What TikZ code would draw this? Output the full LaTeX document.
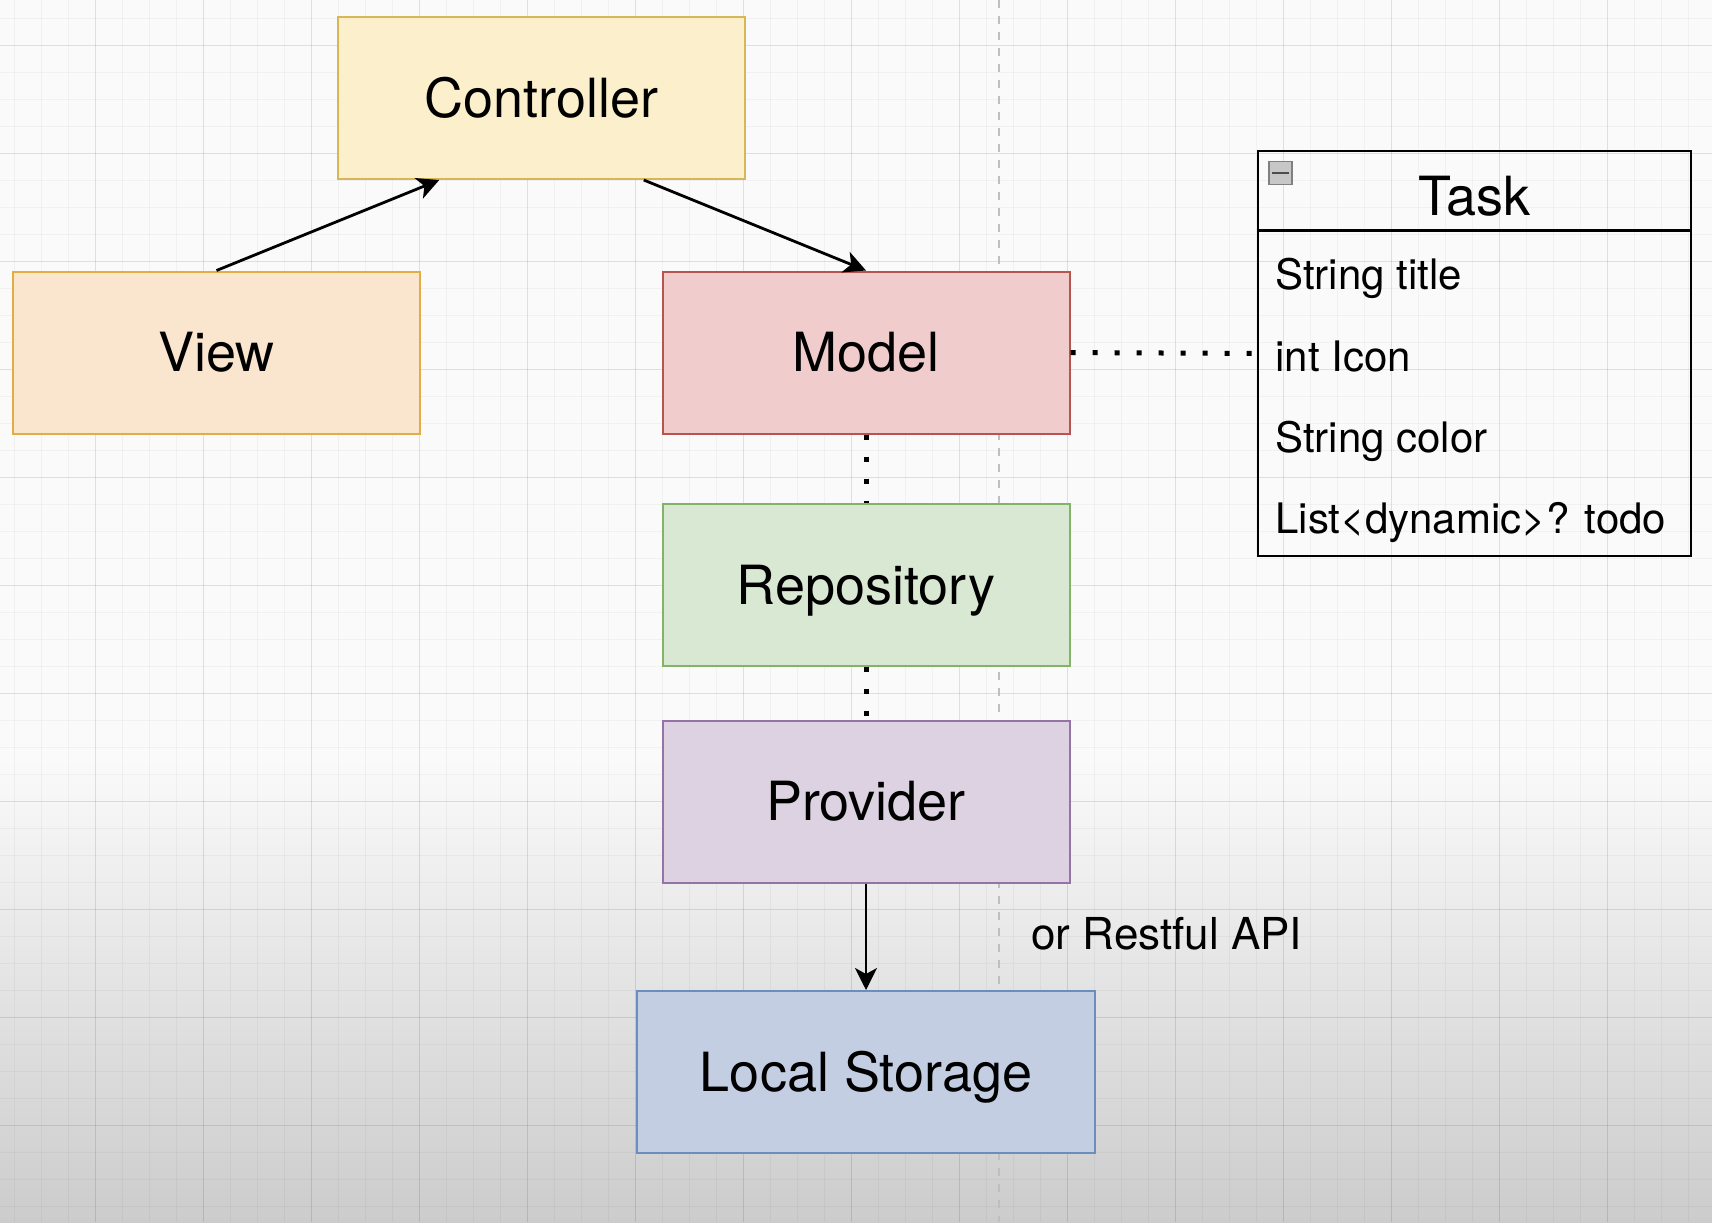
\documentclass[tikz,border=0pt]{standalone}
\usepackage{fontspec}
\setmainfont{TeX Gyre Heros}
\usepackage{tikz}
\usetikzlibrary{calc,positioning,arrows.meta}
\definecolor{ctrlfill}{HTML}{FCF0CC}
\definecolor{ctrlline}{HTML}{D6B656}
\definecolor{viewfill}{HTML}{FAE5CE}
\definecolor{viewline}{HTML}{E0AE45}
\definecolor{modelfill}{HTML}{F1CCCC}
\definecolor{modelline}{HTML}{B85450}
\definecolor{repofill}{HTML}{D8E8D3}
\definecolor{repoline}{HTML}{82B366}
\definecolor{provfill}{HTML}{DDD2E1}
\definecolor{provline}{HTML}{9673A6}
\definecolor{storefill}{HTML}{C4CEE3}
\definecolor{storeline}{HTML}{6C8EBF}
\tikzstyle{layer} = [draw,line width=1pt,minimum width=203.5pt,minimum height=81pt,inner sep=0pt,font=\fontsize{27}{32}\selectfont,text height=19.4pt,text depth=0pt]
\tikzstyle{calls} = [line width=1.4pt,arrows={-Stealth[length=11pt,width=11pt,inset=3pt]}]
\tikzstyle{linked} = [line width=2.5pt,dash pattern=on 2.5pt off 8.5pt]
\tikzstyle{field} = [anchor=base west,inner sep=0pt,font=\fontsize{21}{25}\selectfont]
\tikzstyle{gridminor} = [line width=0.45pt,black,opacity=0.035]
\tikzstyle{gridmajor} = [line width=0.5pt,black,opacity=0.075]

\begin{document}
\begin{tikzpicture}[x=0.5pt,y=-0.5pt]
  \useasboundingbox (0,0) rectangle (1712,1222);
  % canvas
  \fill[white!98!black] (0,0) rectangle (1712,761);
  \shade[top color=white!98!black,bottom color=white!80!black] (0,760) rectangle (1712,1222);
  \foreach \x in {14,41,...,1712} \draw[gridminor] (\x,0) -- (\x,1222);
  \foreach \y in {18,45,...,1222} \draw[gridminor] (0,\y) -- (1712,\y);
  \foreach \x in {95,203,...,1712} \draw[gridmajor] (\x,0) -- (\x,1222);
  \foreach \y in {45,153,...,1222} \draw[gridmajor] (0,\y) -- (1712,\y);
  \draw[black!25,line width=0.8pt,dash pattern=on 4pt off 4pt] (999,0) -- (999,1222);

  % layers
  \node (controller)[layer,fill=ctrlfill,draw=ctrlline] at (541.5,98) {Controller};
  \node (view)[layer,fill=viewfill,draw=viewline] at (216.5,352.5) {View};
  \node (model)[layer,fill=modelfill,draw=modelline] at (866,352.5) {Model};
  \node (repo)[layer,fill=repofill,draw=repoline] at (866,585) {Repository};
  \node (provider)[layer,fill=provfill,draw=provline] at (866,801.5) {Provider};
  \node (storage)[layer,fill=storefill,draw=storeline,minimum width=229pt] at (866,1072) {Local Storage};
  \node (api)[anchor=base west,inner sep=0pt,font=\fontsize{22}{26}\selectfont] at (1031,949) {or Restful API};

  % task class
  \node (task)[draw,line width=1.3pt,minimum width=216.5pt,minimum height=202.5pt,inner sep=0pt] at (1474.5,353.5) {};
  \draw[line width=1.3pt] ($(task.north west)+(0,81)$) -- ($(task.north east)+(0,81)$);
  \node (fold)[draw=black!50,fill=black!22,line width=0.6pt,minimum size=11.5pt,inner sep=0pt] at (1280.5,173) {};
  \draw[black!70,line width=1.2pt] ($(fold.west)+(4,0)$) -- ($(fold.east)+(-4,0)$);
  \node (title)[anchor=base,inner sep=0pt,font=\fontsize{27}{32}\selectfont] at (1474.5,215) {Task};
  \node (f1)[field] at (1275,289) {String title};
  \node (f2)[field] at (1275,371) {int Icon};
  \node (f3)[field] at (1275,452) {String color};
  \node (f4)[field] at (1275,533) {List\textless dynamic\textgreater? todo};

  % connectors
  \draw[calls] (view.north) -- ($(controller.south west)!0.25!(controller.south east)$);
  \draw[calls] ($(controller.south west)!0.75!(controller.south east)$) -- (model.north);
  \draw[linked] (model.east) -- (task.west);
  \draw[linked] (model.south) -- (repo.north);
  \draw[linked] (repo.south) -- (provider.north);
  \draw[calls] (provider.south) -- (storage.north);
\end{tikzpicture}
\end{document}
